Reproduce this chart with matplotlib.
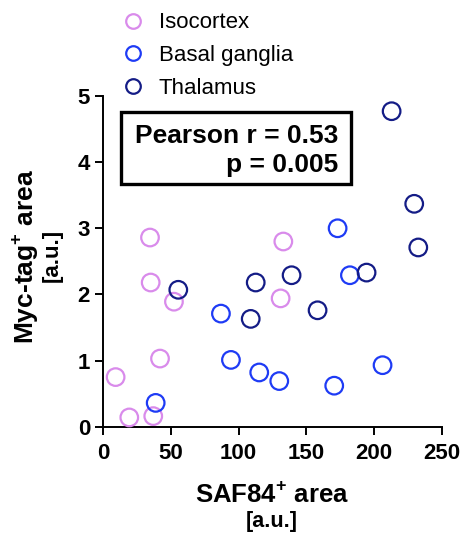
import matplotlib.pyplot as plt
from matplotlib.lines import Line2D
from matplotlib.patches import Rectangle

plt.rcParams["font.family"] = ["Liberation Sans", "DejaVu Sans"]
plt.rcParams["mathtext.fontset"] = "custom"
plt.rcParams["mathtext.rm"] = "Liberation Sans"
plt.rcParams["mathtext.bf"] = "Liberation Sans:bold"

# data
iso_x = [34.5, 35.0, 52.2, 133.0, 131.0, 41.9, 9.1, 19.2, 36.9]
iso_y = [2.86, 2.18, 1.89, 2.80, 1.94, 1.03, 0.75, 0.14, 0.16]
bg_x = [86.9, 94.3, 115.2, 130.0, 170.6, 206.3, 173.1, 182.2, 38.7]
bg_y = [1.71, 1.01, 0.82, 0.69, 0.62, 0.93, 3.00, 2.29, 0.36]
th_x = [213.0, 229.7, 232.7, 194.5, 139.1, 112.6, 108.9, 158.3, 55.4]
th_y = [4.77, 3.37, 2.71, 2.33, 2.29, 2.18, 1.63, 1.76, 2.07]

groups = ["Isocortex", "Basal ganglia", "Thalamus"]
colors = ["#D98BEB", "#1E3BF5", "#141C86"]
stats_lines = ["Pearson r = 0.53", "p = 0.005"]

W, H = 463, 534
fig = plt.figure(figsize=(W / 100, H / 100), dpi=100)
ax = fig.add_axes([103.3 / W, 1 - 426.7 / H, 338.4 / W, 330.7 / H])

for xs, ys, c in zip([iso_x, bg_x, th_x], [iso_y, bg_y, th_y], colors):
    ax.scatter(xs, ys, s=160, facecolors="none", edgecolors=c, linewidths=1.6,
               clip_on=False, zorder=3)

ax.set_xlim(0, 250)
ax.set_ylim(0, 5)
ax.set_xticks([0, 50, 100, 150, 200, 250])
ax.set_yticks([0, 1, 2, 3, 4, 5])
for s in ["top", "right"]:
    ax.spines[s].set_visible(False)
for s in ["left", "bottom"]:
    ax.spines[s].set_linewidth(1.4)
ax.tick_params(width=1.4, length=5.5, labelsize=16)
ax.tick_params(axis="x", pad=6)
ax.tick_params(axis="y", pad=4)
for lab in ax.get_xticklabels() + ax.get_yticklabels():
    lab.set_fontweight("bold")

# stats box (pixel positions from the reference)
fig.patches.append(Rectangle((120.7 / W, 1 - 184 / H), 230 / W, 72.3 / H,
                             transform=fig.transFigure, facecolor="white",
                             edgecolor="black", linewidth=2.4, zorder=5))
fig.text(338.3 / W, 1 - 143.3 / H, stats_lines[0], ha="right", va="baseline",
         fontsize=19, fontweight="bold", zorder=6)
fig.text(338.3 / W, 1 - 171.7 / H, stats_lines[1], ha="right", va="baseline",
         fontsize=19, fontweight="bold", zorder=6)

handles = [Line2D([], [], marker="o", linestyle="none", markersize=10.5,
                  markerfacecolor="none", markeredgecolor=c, markeredgewidth=1.6)
           for c in colors]
fig.legend(handles, groups, loc="upper left", bbox_to_anchor=(121.6 / W, 1 - 12.5 / H),
           frameon=False, fontsize=16, handlelength=1.0, handletextpad=0.67,
           labelspacing=0.53, borderpad=0, borderaxespad=0)

fig.text(272 / W, 1 - 494 / H, r"SAF84$^{\mathbf{+}}$ area", ha="center", va="center",
         fontsize=18.5, fontweight="bold")
fig.text(272 / W, 1 - 522 / H, "[a.u.]", ha="center", va="center",
         fontsize=15.5, fontweight="bold")
fig.text(25 / W, 1 - 256 / H, r"Myc-tag$^{\mathbf{+}}$ area", ha="center", va="center",
         fontsize=19, fontweight="bold", rotation=90)
fig.text(52 / W, 1 - 255 / H, "[a.u.]", ha="center", va="center",
         fontsize=16, fontweight="bold", rotation=90)

fig.savefig("out.png", dpi=100)
